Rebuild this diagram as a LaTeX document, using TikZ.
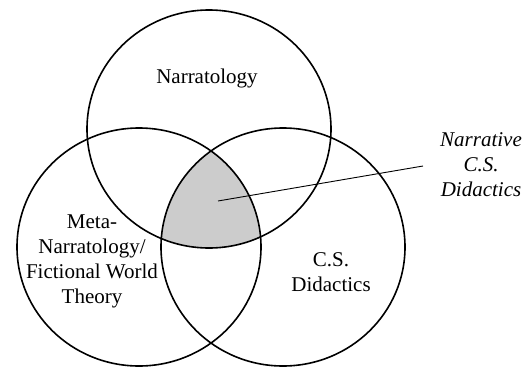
\documentclass[tikz,border=0pt]{standalone}
\usepackage{fontspec}
\setmainfont{Liberation Serif}
\begin{document}
\begin{tikzpicture}[x=1pt,y=1pt,
  ring/.style={draw=black,line width=1.6pt},
  label/.style={font=\fontsize{21}{25}\selectfont,align=center,inner sep=0pt},
  leader/.style={draw=black,line width=0.9pt}]
\useasboundingbox (0,0) rectangle (532,368);
% circle centres
\coordinate (ctop) at (209,239);
\coordinate (cleft) at (139,121);
\coordinate (cright) at (283,121);
% shaded common region of all three sets
\begin{scope}
  \clip (ctop) ellipse [x radius=122pt, y radius=119pt];
  \clip (cleft) ellipse [x radius=122pt, y radius=119pt];
  \fill[black!20] (cright) ellipse [x radius=122pt, y radius=119pt];
\end{scope}
% the three sets
\draw[ring] (ctop) ellipse [x radius=122pt, y radius=119pt];
\draw[ring] (cleft) ellipse [x radius=122pt, y radius=119pt];
\draw[ring] (cright) ellipse [x radius=122pt, y radius=119pt];
% set labels
\node[label,anchor=base] (narr) at (207,285) {Narratology};
\node[label] (meta) at (92,107) {Meta-\\Narratology/\\Fictional World\\Theory};
\node[label] (csd) at (331,95.5) {C.S.\\Didactics};
\node[label,font=\fontsize{21}{25}\selectfont\itshape] (ncsd) at (481,203) {Narrative\\C.S.\\Didactics};
% leader from the intersection to its label
\coordinate (hub) at (218,167);
\coordinate (tip) at (423,202);
\draw[leader] (hub) -- (tip);
\end{tikzpicture}
\end{document}
